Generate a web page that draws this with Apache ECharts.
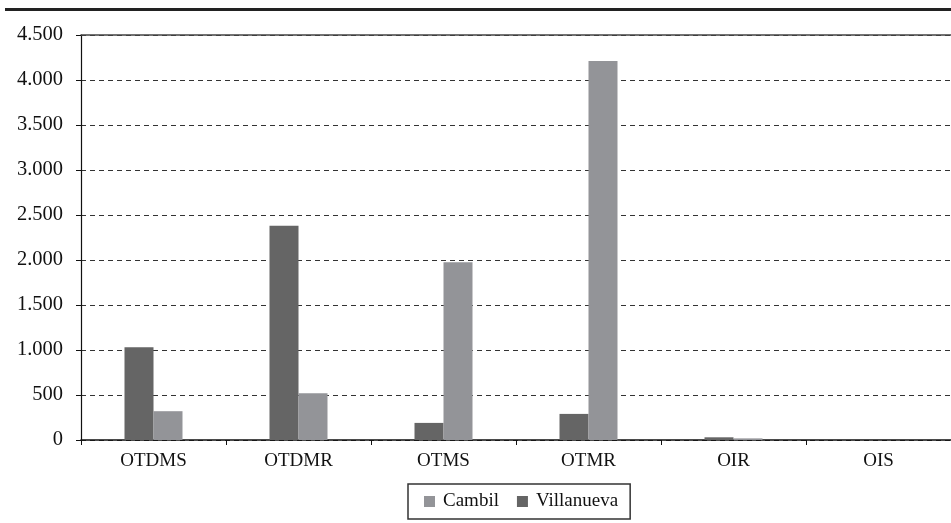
<!DOCTYPE html>
<html><head><meta charset="utf-8">
<script src="https://cdn.jsdelivr.net/npm/echarts@6/dist/echarts.min.js"></script>
<style>html,body{margin:0;padding:0;background:#fff}#c{width:951px;height:523px}</style>
</head><body><div id="c"></div>
<script>
const categories = ['OTDMS','OTDMR','OTMS','OTMR','OIR','OIS'];
const villanueva = [1030, 2380, 190, 290, 30, 0];
const cambil = [320, 520, 1975, 4210, 18, 0];
const yMin = 0, yMax = 4500, yStep = 500;

const chart = echarts.init(document.getElementById('c'), null, {renderer:'canvas'});
const font = '"Liberation Serif", "Times New Roman", serif';
chart.setOption({
  animation:false,
  backgroundColor:'#fff',
  textStyle:{fontFamily:font},
  graphic:[{type:'rect', shape:{x:5,y:8,width:946,height:3}, style:{fill:'#222'}}],
  grid:{left:81,right:0,top:35,bottom:83,containLabel:false},
  legend:{
    data:['Cambil','Villanueva'],
    left:408, top:484,
    padding:[8,12,8,16],
    borderColor:'#333', borderWidth:1.5,
    itemWidth:11, itemHeight:11, itemGap:18,
    icon:'rect',
    textStyle:{fontFamily:font,fontSize:19,color:'#111',padding:[0,0,0,3]}
  },
  xAxis:[{
    type:'category', data:categories,
    axisLine:{lineStyle:{color:'#111',width:1.5}},
    axisTick:{show:true,length:5,lineStyle:{color:'#111'}},
    axisLabel:{fontFamily:font,fontSize:19,color:'#111',margin:12},
    splitLine:{show:false}
  },{
    type:'category', data:categories, position:'top',
    axisLine:{show:true,lineStyle:{color:'#444',width:1.5}},
    axisTick:{show:false}, axisLabel:{show:false}, splitLine:{show:false}
  }],
  yAxis:{
    type:'value', min:yMin, max:yMax, interval:yStep,
    axisLine:{show:true,lineStyle:{color:'#111',width:1.2}},
    axisTick:{show:true,length:5,lineStyle:{color:'#111'}},
    axisLabel:{fontFamily:font,fontSize:20.5,color:'#111',margin:18,
      formatter:v=>v>=1000?Math.floor(v/1000)+'.'+String(v%1000).padStart(3,'0'):String(v)},
    splitLine:{show:true,lineStyle:{color:'#333',type:[5,4],width:1}}
  },
  series:[
    {name:'Villanueva',type:'bar',data:villanueva,barWidth:29,barGap:'0%',itemStyle:{color:'#656565'}},
    {name:'Cambil',type:'bar',data:cambil,barWidth:29,barGap:'0%',itemStyle:{color:'#939498'}}
  ]
});
</script></body></html>
